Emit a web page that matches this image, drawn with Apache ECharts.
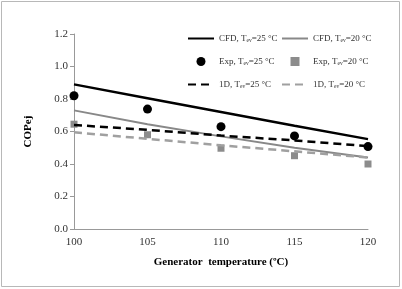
<!DOCTYPE html>
<html><head><meta charset="utf-8">
<script src="https://cdn.jsdelivr.net/npm/echarts@6/dist/echarts.min.js"></script>
<style>html,body{margin:0;padding:0;background:#fff}#c{width:402px;height:289px}</style>
</head><body><div id="c"></div>
<script>
const temps = [100, 105, 110, 115, 120];
const cfd25 = [0.89, 0.805, 0.72, 0.635, 0.553];
const cfd20 = [0.73, 0.645, 0.57, 0.50, 0.44];
const exp25 = [0.82, 0.738, 0.63, 0.573, 0.507];
const exp20 = [0.645, 0.58, 0.497, 0.451, 0.40];
const oneD25 = [0.64, 0.61, 0.575, 0.545, 0.51];
const oneD20 = [0.595, 0.555, 0.515, 0.478, 0.44];
const yTicks = [0, 0.2, 0.4, 0.6, 0.8, 1.0, 1.2];
const names = {
  cfd25: 'CFD, T{s|ev}=25 °C', cfd20: 'CFD, T{s|ev}=20 °C',
  exp25: 'Exp, T{s|ev}=25 °C', exp20: 'Exp, T{s|ev}=20 °C',
  d25: '1D, T{s|ev}=25 °C', d20: '1D, T{s|ev}=20 °C'
};
const pair = arr => temps.map((t, i) => [t, arr[i]]);
const FONT = '"Liberation Serif", "Times New Roman", serif';
const chart = echarts.init(document.getElementById('c'));
const legendText = {fontFamily: FONT, fontSize: 9, color: '#333',
  rich: {s: {fontFamily: FONT, fontSize: 5.5, color: '#333', verticalAlign: 'bottom', padding: [4,0,0,0]}}};
const noSym = {opacity: 0};
const sq = 'path://M0,0H1V1H0Z';
chart.setOption({
  animation: false,
  graphic: [{type: 'rect', shape: {x: 1.5, y: 1.5, width: 398, height: 285},
    style: {fill: 'none', stroke: '#b8b8b8', lineWidth: 1}}],
  grid: {left: 74, right: 34, top: 34, bottom: 60},
  legend: [
    {orient: 'vertical', left: 182, top: 29, itemGap: 13.5, itemWidth: 26, itemHeight: 9, padding: 5,
     data: [{name: names.cfd25, itemStyle: noSym}, {name: names.exp25},
            {name: names.d25, itemStyle: noSym}], textStyle: legendText},
    {orient: 'vertical', left: 276, top: 29, itemGap: 13.5, itemWidth: 26, itemHeight: 9, padding: 5,
     data: [{name: names.cfd20, itemStyle: noSym}, {name: names.exp20, icon: sq},
            {name: names.d20, itemStyle: noSym}], textStyle: legendText}
  ],
  xAxis: {type: 'value', min: 100, max: 120, interval: 5,
    name: 'Generator  temperature (ºC)', nameLocation: 'middle', nameGap: 28,
    nameTextStyle: {fontFamily: FONT, fontWeight: 'bold', fontSize: 11, color: '#000'},
    axisLine: {lineStyle: {color: '#999'}}, axisTick: {show: false},
    axisLabel: {fontFamily: FONT, fontSize: 11, color: '#333', margin: 8},
    splitLine: {show: false}},
  yAxis: {type: 'value', min: 0, max: 1.2, interval: 0.2,
    name: 'COPej', nameLocation: 'middle', nameGap: 40, nameRotate: 90,
    nameTextStyle: {fontFamily: FONT, fontWeight: 'bold', fontSize: 11, color: '#000'},
    axisLine: {show: true, lineStyle: {color: '#999'}},
    axisTick: {show: true, length: 4, lineStyle: {color: '#999'}},
    axisLabel: {fontFamily: FONT, fontSize: 11, color: '#333', margin: 6,
      formatter: v => yTicks.includes(Math.round(v*10)/10) ? v.toFixed(1) : ''},
    splitLine: {show: false}},
  series: [
    {name: names.cfd25, type: 'line', data: pair(cfd25), symbol: 'none',
     lineStyle: {color: '#000', width: 2.5}, itemStyle: {color: '#000'}},
    {name: names.cfd20, type: 'line', data: pair(cfd20), symbol: 'none',
     lineStyle: {color: '#888', width: 2}, itemStyle: {color: '#888'}},
    {name: names.exp25, type: 'scatter', data: pair(exp25), symbol: 'circle', symbolSize: 9,
     itemStyle: {color: '#000', opacity: 1}},
    {name: names.exp20, type: 'scatter', data: pair(exp20), symbol: 'rect', symbolSize: 7,
     itemStyle: {color: '#8c8c8c', opacity: 1}},
    {name: names.d25, type: 'line', data: pair(oneD25), symbol: 'none',
     lineStyle: {color: '#000', width: 2.5, type: [8, 5]}, itemStyle: {color: '#000'}},
    {name: names.d20, type: 'line', data: pair(oneD20), symbol: 'none',
     lineStyle: {color: '#a0a0a0', width: 2.5, type: [8, 5]}, itemStyle: {color: '#a0a0a0'}}
  ]
});
</script></body></html>
